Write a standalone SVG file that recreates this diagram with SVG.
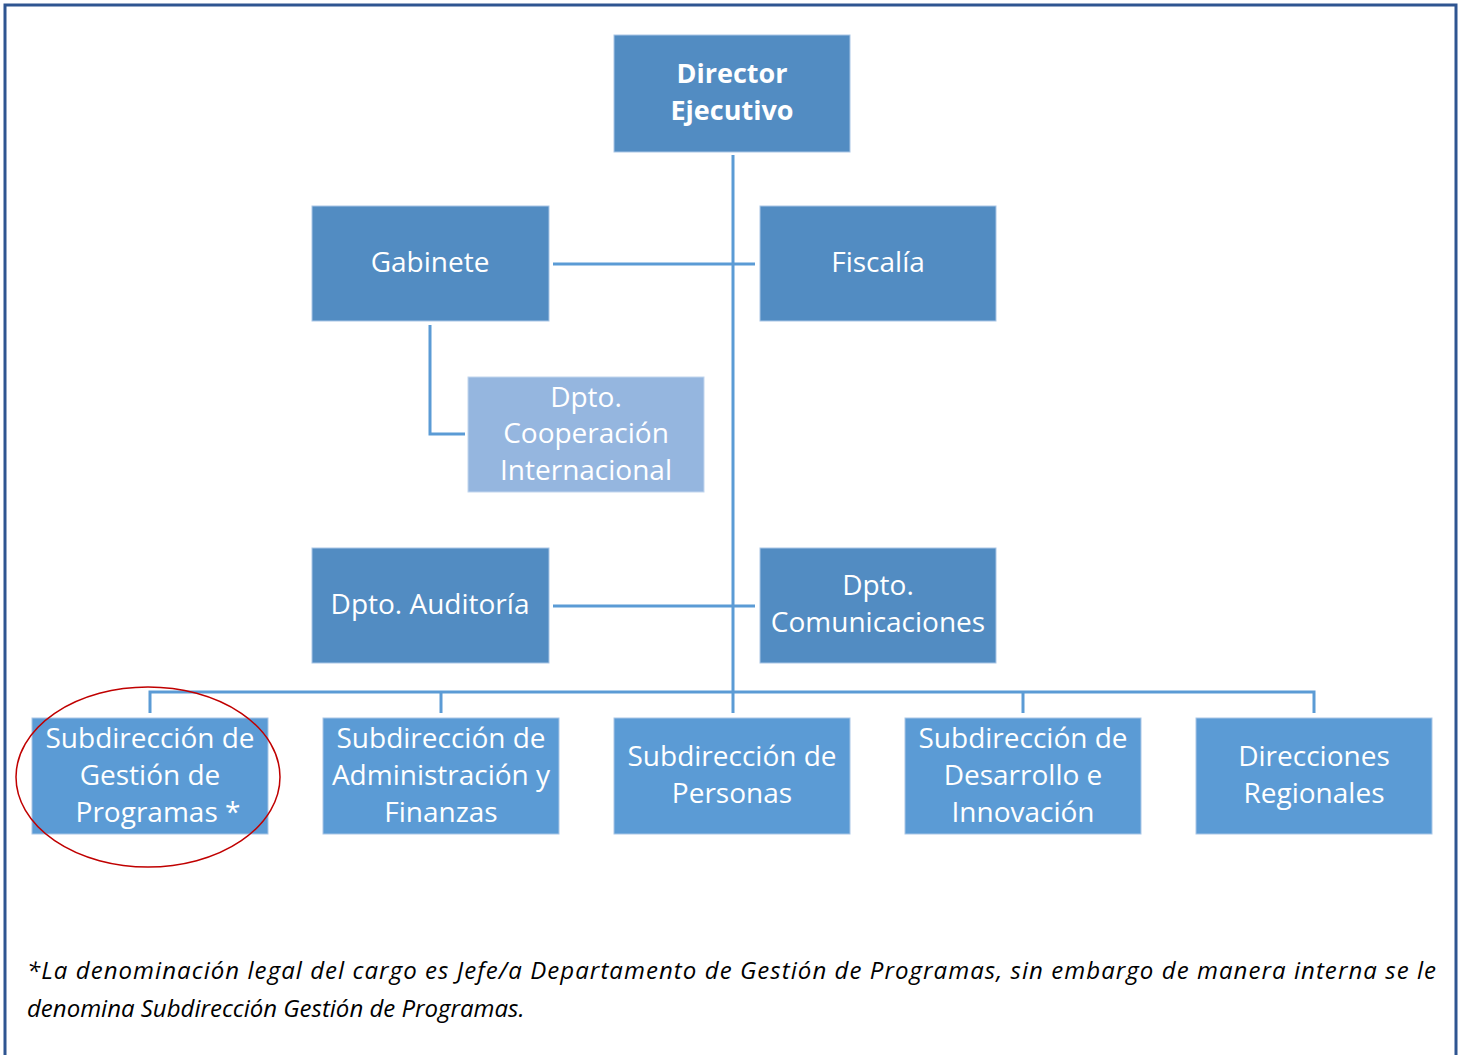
<svg xmlns="http://www.w3.org/2000/svg" width="1462" height="1055" viewBox="0 0 1462 1055">
<style>
.top{fill:#528CC2;stroke:#A9C6E6;stroke-width:1}
.low{fill:#5B9BD5;stroke:#A9C6E6;stroke-width:1}
.light{fill:#95B6DF;stroke:#C2D6EE;stroke-width:1}
.t{font-family:"Open Sans","Noto Sans","Liberation Sans",sans-serif;font-size:28px;fill:#FFFFFF;text-anchor:middle}
.b{font-weight:bold;font-size:27px}
.c{stroke:#5B9BD5;stroke-width:3;fill:none}
.note{font-family:"Open Sans","Noto Sans","Liberation Sans",sans-serif;font-size:24px;font-style:italic;fill:#000000}
</style>
<rect width="1462" height="1055" fill="#FFFFFF"/>
<path d="M5,1055 V5 H1456 V1055" fill="none" stroke="#2E5591" stroke-width="3"/>
<g id="connectors">
<path class="c" d="M733,155 V713"/>
<path class="c" d="M553,264 H755"/>
<path class="c" d="M430,325 V434 H465"/>
<path class="c" d="M553,606 H755"/>
<path class="c" d="M150,713 V692 H1314 V713"/>
<path class="c" d="M441,692 V713"/>
<path class="c" d="M1023,692 V713"/>
</g>
<g id="director">
<rect class="top" x="614" y="35" width="236" height="117"/>
<text class="t b" x="732" y="83">Director</text>
<text class="t b" x="732" y="120">Ejecutivo</text>
</g>
<g id="gabinete">
<rect class="top" x="312" y="206" width="237" height="115"/>
<text class="t" x="430" y="272">Gabinete</text>
</g>
<g id="fiscalia">
<rect class="top" x="760" y="206" width="236" height="115"/>
<text class="t" x="878" y="272">Fiscalía</text>
</g>
<g id="cooperacion">
<rect class="light" x="468" y="377" width="236" height="115"/>
<text class="t" x="586" y="407">Dpto.</text>
<text class="t" x="586" y="443">Cooperación</text>
<text class="t" x="586" y="480">Internacional</text>
</g>
<g id="auditoria">
<rect class="top" x="312" y="548" width="237" height="115"/>
<text class="t" x="430" y="614">Dpto. Auditoría</text>
</g>
<g id="comunicaciones">
<rect class="top" x="760" y="548" width="236" height="115"/>
<text class="t" x="878" y="595">Dpto.</text>
<text class="t" x="878" y="632">Comunicaciones</text>
</g>
<g id="sub-gestion">
<rect class="low" x="32" y="718" width="236" height="116"/>
<text class="t" x="150" y="748">Subdirección de</text>
<text class="t" x="150" y="785">Gestión de</text>
<text class="t" x="158" y="822">Programas *</text>
</g>
<g id="sub-admin">
<rect class="low" x="323" y="718" width="236" height="116"/>
<text class="t" x="441" y="748">Subdirección de</text>
<text class="t" x="441" y="785">Administración y</text>
<text class="t" x="441" y="822">Finanzas</text>
</g>
<g id="sub-personas">
<rect class="low" x="614" y="718" width="236" height="116"/>
<text class="t" x="732" y="766">Subdirección de</text>
<text class="t" x="732" y="803">Personas</text>
</g>
<g id="sub-desarrollo">
<rect class="low" x="905" y="718" width="236" height="116"/>
<text class="t" x="1023" y="748">Subdirección de</text>
<text class="t" x="1023" y="785">Desarrollo e</text>
<text class="t" x="1023" y="822">Innovación</text>
</g>
<g id="regionales">
<rect class="low" x="1196" y="718" width="236" height="116"/>
<text class="t" x="1314" y="766">Direcciones</text>
<text class="t" x="1314" y="803">Regionales</text>
</g>
<ellipse cx="148" cy="777" rx="132" ry="90" fill="none" stroke="#C00000" stroke-width="1.5"/>
<text class="note" x="27" y="979" textLength="1409" lengthAdjust="spacing">*La denominación legal del cargo es Jefe/a Departamento de Gestión de Programas, sin embargo de manera interna se le</text>
<text class="note" x="27" y="1017">denomina Subdirección Gestión de Programas.</text>
</svg>
